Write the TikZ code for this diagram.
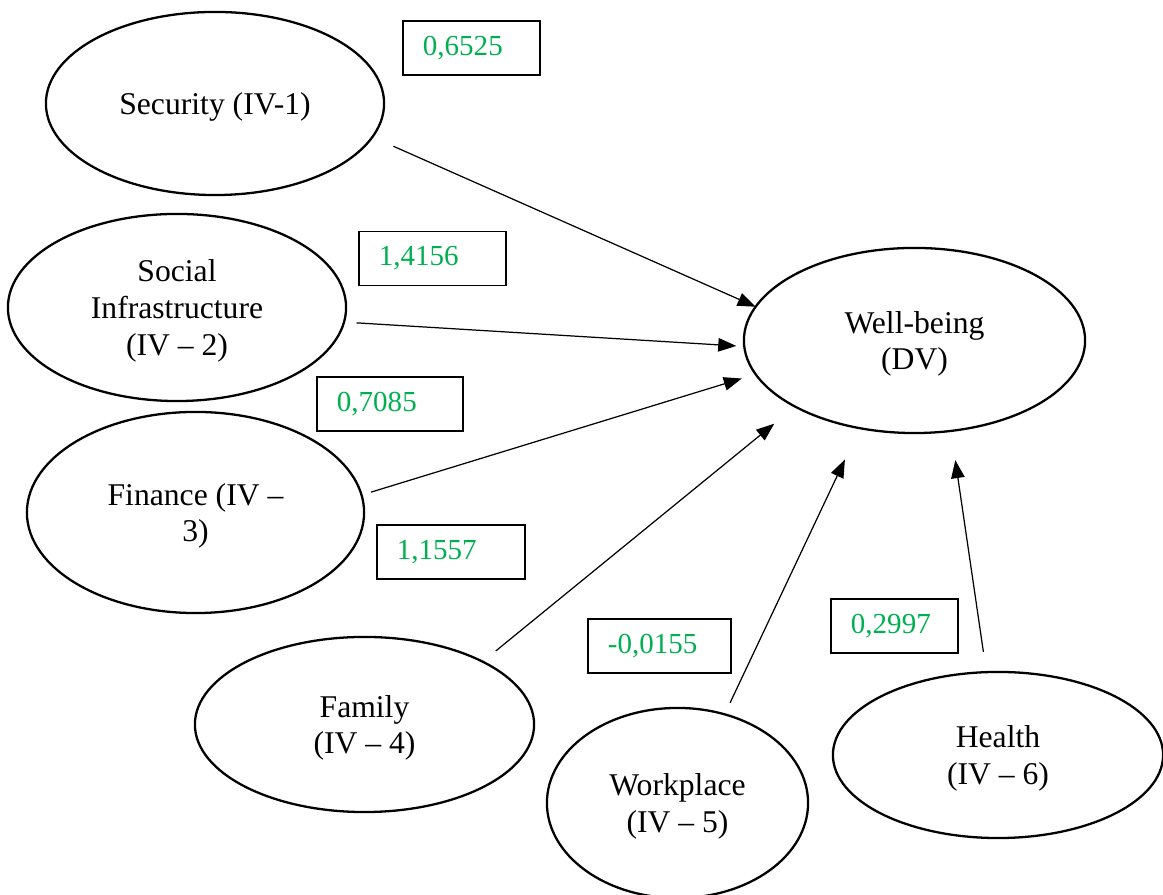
\documentclass[tikz,border=0pt]{standalone}
\usepackage{fontspec}
\setmainfont{Liberation Serif}
\usetikzlibrary{shapes.geometric,arrows.meta}
\definecolor{coefgreen}{RGB}{0,176,80}

\begin{document}
\begin{tikzpicture}[x=0.01cm,y=-0.01cm,
	var/.style={draw,ellipse,line width=0.65pt,inner sep=0pt,outer sep=0pt,text depth=0pt,align=center,font=\fontsize{9}{10.5}\selectfont},
	coef/.style={draw,line width=0.4pt,text width=#1,inner xsep=0.2cm,minimum height=0.54cm,align=left,text=coefgreen,font=\fontsize{8.25}{9.5}\selectfont},
	link/.style={line width=0.35pt,-{Triangle[length=1.8mm,width=1.35mm]}}]
			\useasboundingbox (0,0) rectangle (1163,895);
			% independent variables
			\node[var,minimum width=3.38cm,minimum height=1.83cm] (sec) at (215,103.5) {Security (IV-1)};
			\node[var,minimum width=3.38cm,minimum height=1.87cm] (soc) at (177,307.5) {Social\\Infrastructure\\(IV – 2)};
			\node[var,minimum width=3.37cm,minimum height=2.01cm] (fin) at (195.5,512.5) {Finance (IV –\\3)};
			\node[var,minimum width=3.39cm,minimum height=1.75cm] (fam) at (364.5,724.5) {Family\\(IV – 4)};
			\node[var,minimum width=2.61cm,minimum height=1.90cm] (work) at (677.5,803) {Workplace\\(IV – 5)};
			\node[var,minimum width=3.30cm,minimum height=1.66cm] (hlth) at (998,755) {Health\\(IV – 6)};
			% dependent variable
			\node[var,minimum width=3.41cm,minimum height=1.85cm] (wb) at (914.5,340.5) {Well-being\\(DV)};
			% coefficients
			\node[coef=0.97cm] (csec) at (471.5,48) {0,6525};
			\node[coef=1.07cm] (csoc) at (432.5,258.5) {1,4156};
			\node[coef=1.06cm] (cfin) at (390,404) {0,7085};
			\node[coef=1.08cm] (cfam) at (451,552) {1,1557};
			\node[coef=1.03cm] (cwork) at (659.5,646) {-0,0155};
			\node[coef=0.87cm] (chlth) at (894.5,626) {0,2997};
			% paths
			\draw[link,shorten <=0.23cm] (sec.348.6) -- (wb.168.6);
			\draw[link,shorten <=0.125cm,shorten >=0.08cm] (soc.355.7) -- (wb.182.4);
			\draw[link,shorten <=0.1cm,shorten >=0.145cm] (fin.6.7) -- (wb.192.3);
			\draw[link,shorten <=0.17cm,shorten >=0.27cm] (fam.28.5) -- (wb.209.2);
			\draw[link,shorten <=0.127cm,shorten >=0.347cm] (work.62.3) -- (wb.238.7);
			\draw[link,shorten <=0.205cm,shorten >=0.295cm] (hlth.98.8) -- (wb.292.4);
\end{tikzpicture}
\end{document}
